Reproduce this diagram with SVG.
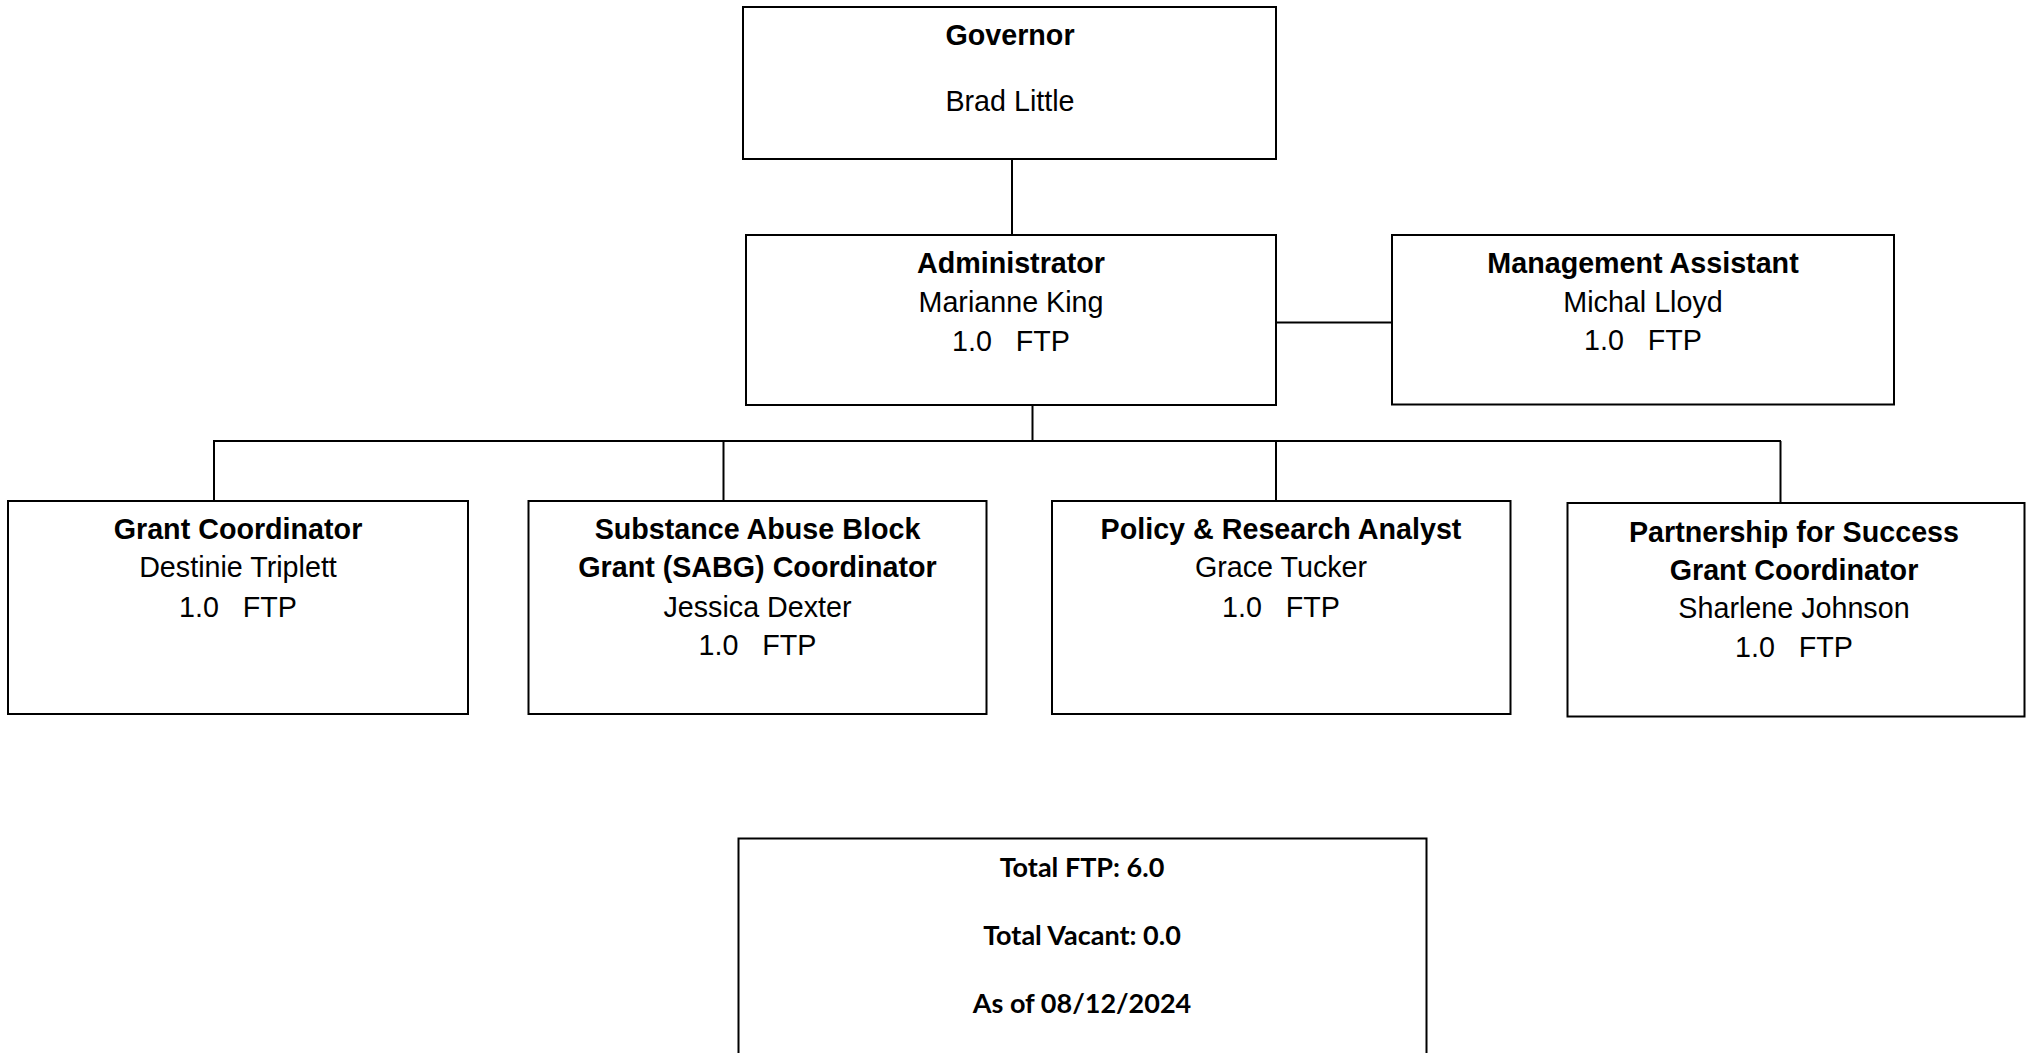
<svg xmlns="http://www.w3.org/2000/svg" width="2026" height="1053" viewBox="0 0 2026 1053">
<style>
.box{fill:#fff;stroke:#000;stroke-width:2}
.ln{stroke:#000;stroke-width:2;fill:none}
text{font-family:"Liberation Sans",Arial,sans-serif;font-size:28.7px;fill:#000;text-anchor:middle}
.b{font-weight:bold}
.sum{font-family:Lato,"Noto Sans",sans-serif;font-weight:bold;font-size:27px}
</style>
<rect width="2026" height="1053" fill="#fff"/>
<g id="connectors">
<line class="ln" x1="1012" y1="159" x2="1012" y2="235"/>
<line class="ln" x1="1276" y1="322.5" x2="1392" y2="322.5"/>
<line class="ln" x1="1032.5" y1="405" x2="1032.5" y2="441"/>
<line class="ln" x1="213" y1="441" x2="1781" y2="441"/>
<line class="ln" x1="214" y1="441" x2="214" y2="501"/>
<line class="ln" x1="723.5" y1="441" x2="723.5" y2="501"/>
<line class="ln" x1="1276" y1="441" x2="1276" y2="501"/>
<line class="ln" x1="1780.5" y1="441" x2="1780.5" y2="503"/>
</g>
<g id="governor">
<rect class="box" x="743" y="7" width="533" height="152"/>
<text class="b" x="1010" y="45">Governor</text>
<text x="1010" y="110.5">Brad Little</text>
</g>
<g id="administrator">
<rect class="box" x="746" y="235" width="530" height="170"/>
<text class="b" x="1011" y="272.7">Administrator</text>
<text x="1011" y="311.7">Marianne King</text>
<text x="1011" y="350.7" xml:space="preserve">1.0   FTP</text>
</g>
<g id="management-assistant">
<rect class="box" x="1392" y="235" width="502" height="169.5"/>
<text class="b" x="1643" y="273.3">Management Assistant</text>
<text x="1643" y="311.7">Michal Lloyd</text>
<text x="1643" y="350.3" xml:space="preserve">1.0   FTP</text>
</g>
<g id="grant-coordinator">
<rect class="box" x="8" y="501" width="460" height="213"/>
<text class="b" x="238" y="538.5">Grant Coordinator</text>
<text x="238" y="577.3">Destinie Triplett</text>
<text x="238" y="616.5" xml:space="preserve">1.0   FTP</text>
</g>
<g id="sabg-coordinator">
<rect class="box" x="528.5" y="501" width="458" height="213"/>
<text class="b" x="757.5" y="538.5">Substance Abuse Block</text>
<text class="b" x="757.5" y="577.3">Grant (SABG) Coordinator</text>
<text x="757.5" y="616.5">Jessica Dexter</text>
<text x="757.5" y="655.3" xml:space="preserve">1.0   FTP</text>
</g>
<g id="policy-analyst">
<rect class="box" x="1052" y="501" width="458.5" height="213"/>
<text class="b" x="1281" y="538.5">Policy &amp; Research Analyst</text>
<text x="1281" y="577.3">Grace Tucker</text>
<text x="1281" y="616.5" xml:space="preserve">1.0   FTP</text>
</g>
<g id="pfs-coordinator">
<rect class="box" x="1567.5" y="503" width="457" height="213.5"/>
<text class="b" x="1794" y="541.5">Partnership for Success</text>
<text class="b" x="1794" y="580">Grant Coordinator</text>
<text x="1794" y="618.3">Sharlene Johnson</text>
<text x="1794" y="656.7" xml:space="preserve">1.0   FTP</text>
</g>
<g id="summary">
<rect class="box" x="738.5" y="838.5" width="688" height="230"/>
<text class="sum" x="1082" y="876.7">Total FTP: 6.0</text>
<text class="sum" x="1082" y="945">Total Vacant: 0.0</text>
<text class="sum" x="1082" y="1012.7">As of 08/12/2024</text>
</g>
</svg>
